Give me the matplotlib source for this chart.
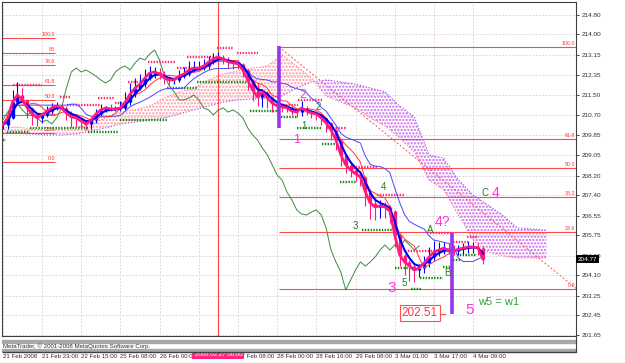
import numpy as np
import pandas as pd
import matplotlib
matplotlib.use("Agg")
import matplotlib.pyplot as plt
import matplotlib.transforms as mtransforms
from matplotlib.patches import Rectangle

plt.rcParams["font.family"] = ["Liberation Sans", "DejaVu Sans"]
plt.rcParams["hatch.linewidth"] = 1.1

# USDJPY H1, one close every 2 bars (bar 0 = 21 Feb 2008 07:00)
close = [210.28, 210.57, 211.22, 211.51, 211.31, 210.98, 210.73, 210.57, 210.69, 210.85,
         210.98, 211.06, 210.98, 210.77, 210.61, 210.57, 210.44, 210.32, 210.48, 210.73,
         210.90, 210.98, 210.94, 210.94, 210.98, 211.22, 211.55, 211.80, 211.96, 212.21,
         212.42, 212.46, 212.38, 212.21, 212.13, 212.13, 212.29, 212.38, 212.54, 212.62,
         212.62, 212.70, 212.87, 212.99, 213.07, 212.99, 212.87, 212.83, 212.79, 212.54,
         212.13, 211.72, 211.43, 211.64, 211.39, 211.18, 211.06, 211.02, 210.98, 210.85,
         210.81, 210.98, 210.85, 210.77, 210.73, 210.57, 210.36, 210.07, 209.66, 209.05,
         208.64, 208.43, 208.27, 208.14, 207.53, 207.07, 206.91, 206.95, 206.91, 206.74,
         205.76, 204.94, 204.65, 204.48, 204.32, 204.40, 204.61, 204.85, 205.06, 205.14,
         205.22, 205.14, 205.10, 205.18, 205.22, 205.27, 205.27, 205.22, 204.77]
# wick lengths above / below the body, in pips
up_pips = [10, 10, 50, 55, 30, 5, 5, 5, 5, 20, 20, 15, 10, 10, 10, 10, 5, 5, 10,
           20, 25, 10, 15, 10, 30, 40, 45, 40, 40, 35, 30, 20, 15, 10, 10, 10,
           25, 30, 35, 30, 30, 30, 25, 25, 20, 10, 10, 10, 10, 5, 5, 5, 30, 10, 5, 5,
           10, 10, 10, 10, 10, 30, 10, 5, 5, 5, 5, 5, 5, 5, 5, 10, 15, 10,
           5, 10, 20, 25, 15, 10, 5, 5, 5, 10, 10, 15, 30, 40, 45, 35, 25, 20,
           20, 15, 20, 25, 20, 15, 10]
dn_pips = [15, 15, 5, 5, 10, 40, 45, 35, 20, 10, 10, 10, 10, 30, 40, 35, 30, 25, 20,
           10, 10, 10, 10, 10, 10, 10, 10, 10, 10, 10, 10, 20, 20, 25, 20, 15,
           10, 10, 10, 10, 10, 10, 10, 10, 10, 20, 25, 25, 20, 30, 40, 45, 35, 40, 40, 35,
           20, 20, 15, 15, 20, 15, 15, 20, 25, 30, 35, 40, 40, 45, 35, 30, 30, 35,
           60, 65, 55, 45, 45, 50, 50, 45, 55, 60, 50, 30, 20, 15, 15, 15, 15, 15,
           15, 15, 20, 20, 25, 30, 20]
# chikou span (close drawn 26 bars back), one value every 2 bars from bar 0
chikou = [210.48, 210.81, 211.06, 211.14, 210.90, 210.69, 210.81, 210.57, 210.40, 210.48,
          210.32, 210.57, 210.98, 211.80, 212.46, 212.62, 212.46, 212.54, 212.42, 212.29,
          212.13, 212.01, 212.13, 212.46, 212.62, 212.70, 212.54, 212.83, 213.03, 212.95,
          213.20, 213.36, 212.95, 212.29, 211.88, 211.64, 211.31, 211.31, 211.39, 211.51,
          211.31, 210.98, 210.90, 210.69, 210.90, 210.98, 210.81, 210.90, 210.77, 210.57,
          210.16, 209.87, 209.66, 209.33, 209.05, 208.64, 208.22, 208.02, 207.53, 207.20,
          206.79, 206.62, 206.58, 206.70, 206.79, 206.58, 206.05, 205.14, 204.65, 204.24,
          203.50, 203.91, 204.32, 204.65, 204.48, 204.65, 204.85, 205.14, 205.35, 205.14,
          205.35, 205.22, 205.55, 205.35, 205.14, 205.31]

# Ichimoku cloud (already shifted 26 bars forward), one value every 6 bars
cloud_bar = list(range(0, 223, 6))
span_a = [210.16, 210.20, 210.11, 210.07, 210.11, 210.20, 210.32, 210.57, 210.81, 210.90,
          211.06, 211.39, 211.64, 211.80, 212.13, 212.38, 212.50, 212.62, 212.70, 213.16,
          212.70, 212.21, 211.47, 211.22, 210.98, 210.57, 210.24, 209.74, 209.17, 208.02,
          207.61, 206.58, 205.55, 205.06, 204.90, 204.81, 204.81, 204.81]
span_b = [209.95, 209.95, 209.91, 209.87, 209.87, 209.91, 210.03, 210.16, 210.32, 210.40,
          210.48, 210.57, 210.73, 210.90, 211.06, 211.22, 211.31, 211.35, 211.39, 211.47,
          211.80, 212.05, 212.13, 212.05, 211.96, 211.80, 211.64, 211.06, 210.61, 209.05,
          208.92, 208.02, 207.40, 206.99, 206.58, 206.05, 206.00, 205.96]

# fibonacci retracements
fib_left_levels = [0.0, 23.6, 38.2, 50.0, 61.8, 78.6, 88.0, 100.0]
fib_left_labels = ["0.0", "23.6", "38.2", "50.0", "61.8", "78.6", "88", "100.0"]
fib_left_lo, fib_left_hi = 208.76, 213.85
fib_right_levels = [0.0, 23.6, 38.2, 50.0, 61.8, 100.0]
fib_right_lo, fib_right_hi = 203.54, 213.485
fib_right_start = 112.8

# fractal support (green) / resistance (pink) segments: start bar, end bar, price
g_start = [0, 1.8, 11.1, 34.8, 47.9, 67.1, 79.3, 101, 112.4, 120.1, 130.3, 137.7,
           146.7, 160.1, 166.7, 170.3, 179.7, 183.8, 185.4]
g_end = [1.5, 11.1, 34.8, 47.1, 67.1, 79.3, 101, 112.4, 120.1, 130.3, 136.9, 144.6,
         160.1, 168.3, 171.1, 179.7, 183.4, 186.7, 193.6]
g_price = [209.66, 209.99, 210.16, 209.99, 210.48, 211.80, 212.05, 210.85, 210.61, 210.16,
           209.50, 207.94, 205.96, 204.40, 203.54, 203.99, 204.44, 204.73, 204.94]
p_start = [4.2, 23.4, 26.2, 38.9, 45.8, 51.1, 59.3, 71.1, 75.2, 87.5, 95.6, 113.2,
           120.5, 132.4, 141.8, 152.8, 164.2, 174.4, 183.8, 189.5]
p_end = [16, 27.5, 39.7, 45.8, 50.7, 58.9, 70.3, 77.7, 87.5, 94, 104.2, 120.5,
         130.7, 140.5, 152.8, 164.2, 182.6, 183.4, 189.9, 194]
p_price = [211.92, 211.43, 211.10, 211.39, 211.18, 212.05, 212.87, 212.62, 213.07, 213.44,
           213.24, 211.10, 211.31, 210.16, 208.55, 207.40, 205.10, 205.84, 205.47, 205.68]

tick_bars = list(range(0, 193, 16))
tick_labels = ["21 Feb 2008", "21 Feb 23:00", "22 Feb 15:00", "25 Feb 08:00", "26 Feb 00:00",
               "26 Feb 16:00", "27 Feb 08:00", "28 Feb 00:00", "28 Feb 16:00", "29 Feb 08:00",
               "3 Mar 01:00", "3 Mar 17:00", "4 Mar 09:00"]
price_ticks = [214.80, 214.00, 213.15, 212.35, 211.50, 210.70, 209.85, 209.05, 208.20,
               207.40, 206.55, 205.75, 204.90, 204.10, 203.25, 202.45, 201.65]
last_price = 204.77

# ---- derived series
c = pd.Series(close)
bars = np.arange(len(close)) * 2
o = c.shift(1).fillna(c.iloc[0])
hi = np.maximum(o, c) + np.array(up_pips) / 100
lo = np.minimum(o, c) - np.array(dn_pips) / 100
ema = c.ewm(span=3, adjust=False).mean()
tenkan = (pd.Series(hi).rolling(5, min_periods=1).max() + pd.Series(lo).rolling(5, min_periods=1).min()) / 2
kijun = (pd.Series(hi).rolling(13, min_periods=1).max() + pd.Series(lo).rolling(13, min_periods=1).min()) / 2

W, H = 625, 363
fig = plt.figure(figsize=(W / 100, H / 100), dpi=100)
ax = fig.add_axes([2 / W, (H - 336) / H, 574 / W, 334 / H])
ax.set_xlim(-0.3, 234)
ax.set_ylim(201.607, 215.334)

ax.grid(True, color="#d6cccc", linestyle=(0, (2, 2)), linewidth=0.6)
ax.set_axisbelow(True)

# cloud
ca, cb = np.array(span_a), np.array(span_b)
ax.fill_between(cloud_bar, ca, cb, where=ca >= cb, interpolate=True, facecolor="none",
                edgecolor="#ff99a8", hatch=".....", linewidth=0, zorder=1)
ax.fill_between(cloud_bar, ca, cb, where=ca < cb, interpolate=True, facecolor="none",
                edgecolor="#cc66ee", hatch=".....", linewidth=0, zorder=1)
ax.plot(cloud_bar, ca, color="#ff7080", lw=0.8, ls=":", zorder=1)
ax.plot(cloud_bar, cb, color="#a040e0", lw=0.8, ls=":", zorder=1)

# fibonacci
for lev, lab in zip(fib_left_levels, fib_left_labels):
    y = fib_left_lo + (fib_left_hi - fib_left_lo) * lev / 100
    ax.hlines(y, -0.3, 21.4, color="#ff4a4a", lw=0.8, zorder=2)
    ax.text(21.4, y + 0.04, lab, color="#ff3030", fontsize=3.8, ha="right", va="bottom", zorder=2)
for lev in fib_right_levels:
    y = fib_right_lo + (fib_right_hi - fib_right_lo) * lev / 100
    ax.hlines(y, fib_right_start, 234, color="#ff4a4a", lw=0.8, zorder=2)
    ax.text(233.7, y + 0.04, f"{lev:.1f}", color="#ff3030", fontsize=3.8, ha="right", va="bottom", zorder=2)
ax.plot([fib_right_start, 234.3], [fib_right_hi, fib_right_lo], color="#ff5050", lw=0.7,
        ls=(0, (2, 2)), zorder=2)

# red crosshair line
ax.axvline(88, color="#ff4040", lw=0.8, zorder=2)

# chikou span
ax.plot(bars[:len(chikou)], chikou, color="#3c8c3c", lw=0.7, zorder=3)

# fractal levels
for s, e, p in zip(g_start, g_end, g_price):
    ax.plot([s, e], [p, p], color="#108a10", lw=1.7, ls=(0, (0.6, 0.6)), zorder=4)
for s, e, p in zip(p_start, p_end, p_price):
    ax.plot([s, e], [p, p], color="#ff2a6a", lw=1.7, ls=(0, (0.6, 0.6)), zorder=4)

# candles
up = (c >= o).values
col = np.where(up, "#0000ff", "#ff1a7a")
ax.vlines(bars, lo, hi, colors=col, lw=0.8, zorder=5)
ax.vlines(bars, np.minimum(o, c), np.maximum(o, c) + 0.01, colors=col, lw=2.4, zorder=5)

ax.plot(bars, kijun, color="#4848ff", lw=0.7, zorder=6)
ax.plot(bars, tenkan, color="#ff3838", lw=0.7, zorder=6)
ax.plot(bars, ema, color="#0000ee", lw=1.5, zorder=6)
ax.plot(bars, c, color="#ff1a80", lw=1.9, zorder=7)

# wave marks
ax.vlines([112.8], 210.14, 213.53, color="#9933ee", lw=2.6, zorder=8)
ax.vlines([183.4], 202.51, 205.84, color="#9933ee", lw=2.6, zorder=8)

mag = "#ff33dd"
grn = "#2a7a2a"
for t, x, y, fs in [("1", 120.1, 209.66, 9), ("2", 122.6, 211.51, 9), ("3", 158.9, 203.58, 11),
                    ("4?", 179.3, 206.29, 10), ("4", 201.3, 207.48, 10), ("5", 190.7, 202.68, 11)]:
    ax.text(x, y, t, color=mag, fontsize=fs, ha="center", va="center", zorder=9)
for t, x, y in [("2", 128.7, 211.02), ("1", 123.0, 210.22), ("4", 155.6, 207.73), ("3", 143.8, 206.13),
                ("5", 163.8, 203.79), ("A", 174.4, 205.96), ("B", 181.4, 204.20), ("C", 196.9, 207.48)]:
    ax.text(x, y, t, color=grn, fontsize=7, ha="center", va="center", zorder=9)
ax.text(202.6, 203.0, "w5 = w1", color="#33a033", fontsize=8, ha="center", va="center", zorder=9)
ax.text(170.3, 202.55, "202.51", color="#ff3355", fontsize=8.5, ha="center", va="center", zorder=9,
        bbox=dict(boxstyle="square,pad=0.2", fc="white", ec="#ff5050", lw=0.8))
ax.plot([178.8, 180.5], [202.51, 202.51], color="#ff5050", lw=0.8, zorder=9)

# axes
for s in ax.spines.values():
    s.set_color("#404040")
    s.set_linewidth(0.8)
ax.yaxis.tick_right()
ax.set_yticks(price_ticks)
ax.set_yticklabels([f"{v:.2f}" for v in price_ticks])
ax.tick_params(axis="y", length=2.5, width=0.6, pad=1.5, labelsize=4.6, colors="#303030")
ax.set_xticks(tick_bars)
ax.set_xticklabels(tick_labels, ha="left")
ax.tick_params(axis="x", length=0, pad=13, labelsize=4.4, colors="#303030")

ax.text(1.003, last_price, f"{last_price:.2f}", transform=mtransforms.blended_transform_factory(ax.transAxes, ax.transData),
        color="white", fontsize=4.6, ha="left", va="center",
        bbox=dict(boxstyle="square,pad=0.25", fc="black", ec="none"), clip_on=False, zorder=10)
ax.text(88, -(352 - 336) / 334, "2008.02.27 00:00",
        transform=mtransforms.blended_transform_factory(ax.transData, ax.transAxes),
        color="white", fontsize=4.4, ha="center", va="top", clip_on=False, zorder=10,
        bbox=dict(boxstyle="square,pad=0.35", fc="#ff2a80", ec="none"))

# lower panes
def band(y0, y1, color):
    fig.patches.append(Rectangle((2 / W, 1 - y1 / H), 574 / W, (y1 - y0) / H,
                                 transform=fig.transFigure, color=color, zorder=0))

band(339.5, 342.5, "#a8a8a8")
band(348.5, 351.0, "#a8a8a8")
band(351.5, 352.3, "#404040")
fig.add_artist(plt.Line2D([576 / W, 576 / W], [1 - 352 / H, 1 - 336 / H], color="#404040", lw=0.8))
fig.text(3 / W, 1 - 346 / H, "MetaTrader, © 2001-2008 MetaQuotes Software Corp.", fontsize=4.4,
         color="#303030", va="center", ha="left")

fig.savefig("out.png", dpi=100, facecolor="white")
